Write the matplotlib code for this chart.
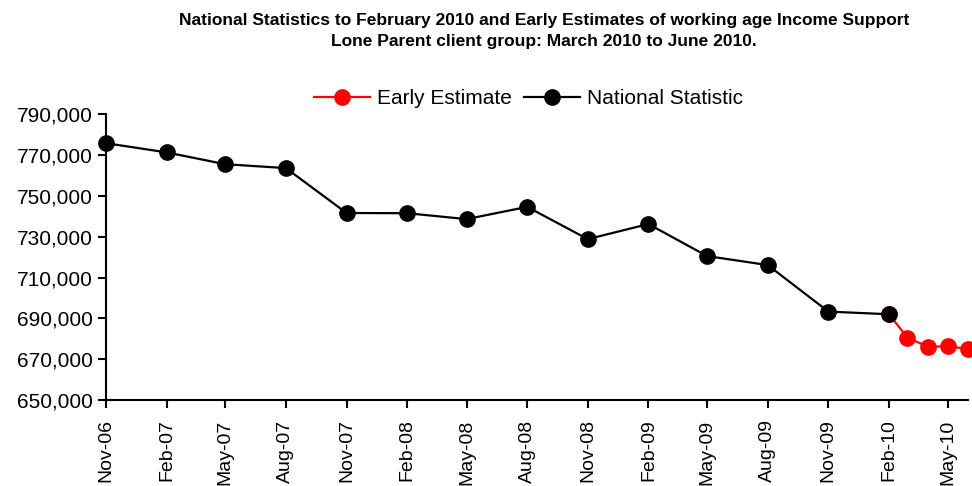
import numpy as np
import pandas as pd
import matplotlib
matplotlib.use('Agg')
import matplotlib.pyplot as plt
import matplotlib.dates as mdates
import matplotlib.ticker as mticker

plt.rcParams['font.family'] = ['Liberation Sans', 'DejaVu Sans']

# National Statistics (quarterly)
nat_dates = ['2006-11', '2007-02', '2007-05', '2007-08', '2007-11', '2008-02',
             '2008-05', '2008-08', '2008-11', '2009-02', '2009-05', '2009-08',
             '2009-11', '2010-02']
nat_values = [775800, 771300, 765500, 763600, 741600, 741500, 738600, 744600,
              728800, 736200, 720500, 716100, 693300, 692000]

# Early Estimates (monthly, joined from Feb-10)
est_dates = ['2010-02', '2010-03', '2010-04', '2010-05', '2010-06']
est_values = [692000, 680500, 676100, 676300, 675000]

tick_dates = nat_dates + ['2010-05']

nat_x = pd.to_datetime(nat_dates)
est_x = pd.to_datetime(est_dates)
ticks_x = pd.to_datetime(tick_dates)

fig = plt.figure(figsize=(9.72, 4.86), dpi=100)
ax = fig.add_axes([0.109, 0.177, 0.887, 0.588])

ax.plot(est_x, est_values, color='#ff0000', lw=1.6, marker='o', ms=11,
        label='Early Estimate', clip_on=False, zorder=3)
ax.plot(nat_x, nat_values, color='black', lw=1.6, marker='o', ms=11,
        label='National Statistic', clip_on=False, zorder=4)

ax.set_xlim(nat_x[0], est_x[-1])
ax.set_ylim(650000, 790000)
ax.set_yticks(np.arange(650000, 790001, 20000))
ax.yaxis.set_major_formatter(mticker.FuncFormatter(lambda v, p: f'{int(v):,}'))

ax.set_xticks(ticks_x)
ax.xaxis.set_major_formatter(mdates.DateFormatter('%b-%y'))
plt.setp(ax.get_xticklabels(), rotation=90)

ax.tick_params(axis='both', direction='out', length=6, width=1.5)
ax.tick_params(axis='y', labelsize=15)
ax.tick_params(axis='x', labelsize=14, pad=8)
ax.spines['top'].set_visible(False)
ax.spines['right'].set_visible(False)
ax.spines['left'].set_linewidth(1.5)
ax.spines['bottom'].set_linewidth(1.5)

fig.text(0.56, 0.974, 'National Statistics to February 2010 and Early Estimates of working age Income Support\n'
         'Lone Parent client group: March 2010 to June 2010.',
         ha='center', va='top', fontsize=12.5, fontweight='bold', linespacing=1.55)

ax.legend(loc='lower center', bbox_to_anchor=(0.49, 0.955), ncol=2, frameon=False,
          fontsize=15, handlelength=2.7, columnspacing=0.6, handletextpad=0.3)

fig.savefig('out.png', dpi=100)
